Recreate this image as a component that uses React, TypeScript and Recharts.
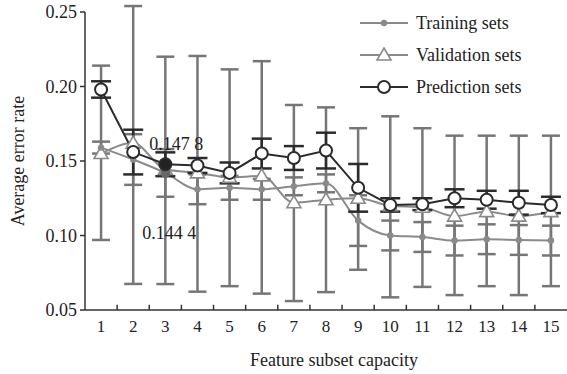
import { LineChart, Line, XAxis, YAxis, ErrorBar, ReferenceLine, ReferenceDot, Legend } from "recharts";

// feature subset capacity (x categories)
const capacity = [1, 2, 3, 4, 5, 6, 7, 8, 9, 10, 11, 12, 13, 14, 15];

const training = [0.159, 0.151, 0.142, 0.131, 0.132, 0.131, 0.133, 0.135, 0.11, 0.1, 0.099, 0.0966, 0.0975, 0.097, 0.0966];
const trainingErr = [0.004, 0.017, 0.016, 0.01, 0.008, 0.007, 0.006, 0.006, 0.017, 0.01, 0.01, 0.01, 0.01, 0.01, 0.01];

const validation = [0.155, 0.162, 0.1444, 0.142, 0.139, 0.14, 0.122, 0.124, 0.125, 0.12, 0.119, 0.113, 0.116, 0.113, 0.116];
const validationLow = [0.058, 0.0945, 0.077, 0.0797, 0.073, 0.079, 0.066, 0.062, 0.048, 0.0615, 0.0535, 0.053, 0.05, 0.053, 0.05];
const validationHigh = [0.059, 0.092, 0.0756, 0.0785, 0.0725, 0.077, 0.0656, 0.062, 0.047, 0.06, 0.053, 0.054, 0.051, 0.054, 0.051];

const prediction = [0.198, 0.156, 0.1478, 0.147, 0.142, 0.155, 0.152, 0.157, 0.132, 0.1205, 0.121, 0.125, 0.124, 0.122, 0.1205];
const predictionErr = [0.0055, 0.015, 0.008, 0.005, 0.007, 0.01, 0.008, 0.012, 0.016, 0.0045, 0.004, 0.006, 0.006, 0.008, 0.0055];

const yTicks = [0.05, 0.1, 0.15, 0.2, 0.25];

const data = capacity.map((c, i) => ({
  capacity: c,
  training: training[i],
  trainingErr: trainingErr[i],
  validation: validation[i],
  validationErr: [validationLow[i], validationHigh[i]],
  prediction: prediction[i],
  predictionErr: predictionErr[i],
}));

// small ticks between the categories
const boundaries = capacity.slice(0, -1).map((c) => c + 0.5);

const serif = '"Liberation Serif", "Times New Roman", serif';
const grey = "#8a8a8a";
const barGrey = "#767676";
const dark = "#2b2b2b";

const TrainingDot = (props: any) => {
  const { cx, cy, index } = props;
  const big = index === 2;
  return <circle key={`t-${index}`} cx={cx} cy={cy} r={big ? 5 : 3.2} fill={big ? "#666" : grey} />;
};

const ValidationDot = (props: any) => {
  const { cx, cy, index } = props;
  return (
    <path
      key={`v-${index}`}
      d={`M${cx},${cy - 7} L${cx + 7},${cy + 5} L${cx - 7},${cy + 5} Z`}
      fill="#fff"
      stroke={grey}
      strokeWidth={1.6}
    />
  );
};

const PredictionDot = (props: any) => {
  const { cx, cy, index } = props;
  const hi = index === 2;
  return <circle key={`p-${index}`} cx={cx} cy={cy} r={6} fill={hi ? "#222" : "#fff"} stroke={dark} strokeWidth={2} />;
};

const legendItems = [
  { name: "Training sets", color: grey, marker: "dot" },
  { name: "Validation sets", color: grey, marker: "triangle" },
  { name: "Prediction sets", color: dark, marker: "circle" },
];

const renderLegend = () => (
  <div style={{ fontFamily: serif, fontSize: 18, color: "#222" }}>
    {legendItems.map((item) => (
      <div key={item.name} style={{ display: "flex", alignItems: "center", height: 32 }}>
        <svg width={50} height={18}>
          <line x1={0} y1={9} x2={48} y2={9} stroke={item.color} strokeWidth={2} />
          {item.marker === "dot" && <circle cx={24} cy={9} r={3.2} fill={grey} />}
          {item.marker === "triangle" && (
            <path d="M24,2 L31,14 L17,14 Z" fill="#fff" stroke={grey} strokeWidth={1.6} />
          )}
          {item.marker === "circle" && <circle cx={24} cy={9} r={6} fill="#fff" stroke={dark} strokeWidth={2} />}
        </svg>
        <span style={{ marginLeft: 6 }}>{item.name}</span>
      </div>
    ))}
  </div>
);

export default function App() {
  return (
    <div style={{ position: "absolute", left: 0, top: 0, background: "#fff" }}>
      <LineChart width={567} height={374} data={data} margin={{ top: 12, right: 0, left: 0, bottom: 0 }}>
        <XAxis
          dataKey="capacity"
          type="number"
          domain={[0.5, 15.5]}
          ticks={capacity}
          allowDataOverflow
          height={64}
          tickLine={false}
          tickSize={0}
          tickMargin={10}
          axisLine={{ stroke: "#333", strokeWidth: 1.5 }}
          tick={{ fill: "#222", fontSize: 17, fontFamily: serif }}
          label={{
            value: "Feature subset capacity",
            position: "insideBottom",
            offset: 8,
            dx: 8,
            fill: "#222",
            fontSize: 18,
            fontFamily: serif,
          }}
        />
        <YAxis
          type="number"
          domain={[0.05, 0.25]}
          ticks={yTicks}
          allowDataOverflow
          width={85}
          tickSize={5}
          tickMargin={3}
          tickFormatter={(v: number) => v.toFixed(2)}
          axisLine={{ stroke: "#333", strokeWidth: 1.5 }}
          tickLine={{ stroke: "#333", strokeWidth: 1.5 }}
          tick={{ fill: "#222", fontSize: 18, fontFamily: serif }}
          label={{
            value: "Average error rate",
            angle: -90,
            position: "center",
            dx: -25,
            fill: "#222",
            fontSize: 18,
            fontFamily: serif,
          }}
        />
        {boundaries.map((b) => (
          <ReferenceLine
            key={`b-${b}`}
            segment={[
              { x: b, y: 0.05 },
              { x: b, y: 0.0535 },
            ]}
            stroke="#333"
            strokeWidth={1.5}
          />
        ))}
        <Legend
          layout="horizontal"
          verticalAlign="middle"
          align="center"
          content={renderLegend}
          wrapperStyle={{ left: 360, top: 7, width: "auto" }}
        />
        <Line
          dataKey="validation"
          type="monotone"
          stroke={grey}
          strokeWidth={2}
          dot={ValidationDot}
          isAnimationActive={false}
          legendType="none"
        >
          <ErrorBar dataKey="validationErr" direction="y" width={9} stroke={barGrey} strokeWidth={2.5} />
        </Line>
        <Line
          dataKey="training"
          type="monotone"
          stroke={grey}
          strokeWidth={2}
          dot={TrainingDot}
          isAnimationActive={false}
        >
          <ErrorBar dataKey="trainingErr" direction="y" width={9} stroke={barGrey} strokeWidth={2.5} />
        </Line>
        <Line
          dataKey="prediction"
          type="linear"
          stroke={dark}
          strokeWidth={2}
          dot={PredictionDot}
          isAnimationActive={false}
        >
          <ErrorBar dataKey="predictionErr" direction="y" width={10} stroke={dark} strokeWidth={2.5} />
        </Line>
        <ReferenceDot
          x={3}
          y={0.1478}
          r={0}
          stroke="none"
          fill="none"
          label={{ value: "0.147 8", position: "center", dx: 11, dy: -21, fill: "#222", fontSize: 18, fontFamily: serif }}
        />
        <ReferenceDot
          x={3}
          y={0.1444}
          r={0}
          stroke="none"
          fill="none"
          label={{ value: "0.144 4", position: "center", dx: 4, dy: 63, fill: "#222", fontSize: 18, fontFamily: serif }}
        />
      </LineChart>
    </div>
  );
}
